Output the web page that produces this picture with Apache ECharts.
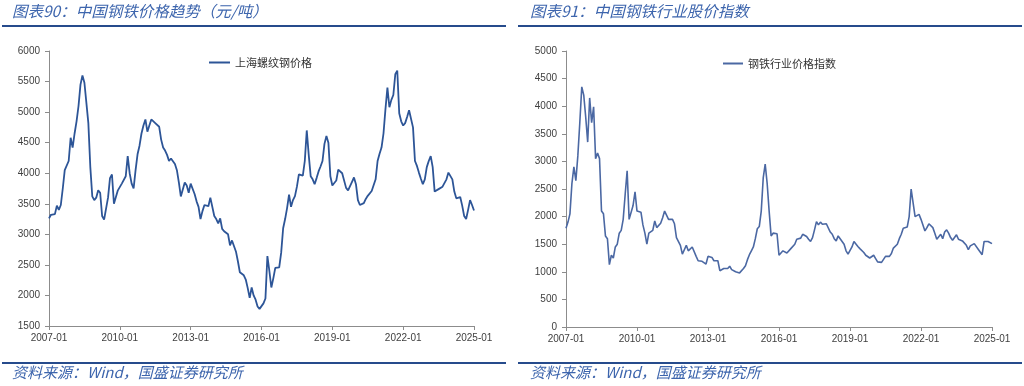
<!DOCTYPE html>
<html>
<head>
<meta charset="utf-8">
<script src="https://cdn.jsdelivr.net/npm/echarts@6/dist/echarts.min.js"></script>
<style>
html,body{margin:0;padding:0;background:#fff;}
#c{width:1024px;height:386px;}
</style>
</head>
<body>
<div id="c"></div>
<script>
// Monthly categories 2007-01 .. 2025-01
var startYear = 2007, endYear = 2025;
var months = [];
for (var y = startYear; y <= endYear; y++) {
  for (var m = 1; m <= 12; m++) {
    if (y === endYear && m > 1) break;
    months.push(y + '-' + (m < 10 ? '0' + m : m));
  }
}
var tickLabels = ['2007-01','2010-01','2013-01','2016-01','2019-01','2022-01','2025-01'];

var titleLeft = '图表90：中国钢铁价格趋势（元/吨）';
var titleRight = '图表91：中国钢铁行业股价指数';
var sourceText = '资料来源：Wind，国盛证券研究所';
var nameRebar = '上海螺纹钢价格';
var nameIndex = '钢铁行业价格指数';

// 上海螺纹钢价格 (元/吨), monthly
var rebarPrice = [
  3260,3320,3340,3330,3470,3400,3480,3750,4050,4070,4200,4580,
  4420,4650,4850,5100,5450,5600,5480,5150,4820,4100,3620,3560,
  3600,3720,3680,3300,3240,3420,3600,3920,3980,3500,3490,3720,
  3750,3830,3800,3950,4280,4000,3830,3750,4050,4310,4450,4650,
  4780,4880,4680,4780,4880,4850,4820,4830,4760,4550,4420,4370,
  4300,4200,4240,4270,4150,4050,3850,3620,3640,3850,3800,3680,
  3830,3810,3660,3540,3450,3250,3380,3480,3450,3460,3600,3580,
  3300,3250,3180,3260,3090,3050,3080,3000,2820,2900,2880,2720,
  2560,2380,2380,2330,2260,2120,1960,2130,2000,1930,1820,1780,
  1780,1870,1950,2645,2400,2130,2280,2450,2420,2460,2700,3100,
  3250,3430,3650,3450,3560,3625,3780,3980,4010,3960,4200,4700,
  4300,3950,3900,3820,3920,4030,4110,4200,4480,4610,4500,3950,
  3800,3810,3880,4060,4080,4000,3980,3760,3720,3740,3860,3930,
  3820,3560,3480,3480,3510,3580,3630,3660,3710,3740,3900,4200,
  4320,4420,4650,5050,5400,5080,5200,5280,5620,5680,4980,4850,
  4780,4820,4920,5030,5000,4750,4200,4120,4010,3910,3820,3900,
  4100,4200,4280,4100,3700,3730,3740,3720,3780,3790,3900,4010,
  3980,3900,3700,3590,3620,3610,3470,3300,3250,3400,3560,3480,
  3390
];

// 钢铁行业价格指数, monthly
var steelIndex = [
  1790,1900,2050,2600,2900,2650,3100,3700,4350,4200,3800,3350,
  4150,3700,3990,3050,3150,3050,2100,2050,1650,1600,1130,1300,
  1250,1450,1500,1700,1750,1950,2400,2830,1950,1930,2200,2450,
  2100,2130,2080,1850,1700,1500,1700,1720,1750,1920,1800,1830,
  1880,1980,2100,2110,1950,1980,1950,1870,1620,1600,1480,1320,
  1400,1480,1380,1400,1450,1420,1280,1200,1190,1190,1200,1140,
  1280,1290,1260,1200,1180,1200,1020,1000,1060,1070,1060,1100,
  1040,1010,1000,990,980,1010,1060,1110,1220,1310,1380,1450,
  1600,1780,1820,2100,2700,2950,2600,2100,1650,1700,1680,1690,
  1300,1270,1380,1400,1340,1325,1420,1440,1500,1590,1600,1610,
  1680,1700,1640,1590,1550,1620,1760,1910,1850,1900,1860,1890,
  1870,1880,1720,1680,1600,1560,1650,1600,1580,1500,1380,1320,
  1350,1450,1550,1530,1460,1420,1400,1350,1300,1270,1250,1270,
  1300,1240,1180,1150,1170,1200,1280,1310,1280,1330,1430,1430,
  1500,1600,1680,1790,1790,1810,2000,2500,2250,2000,2020,2040,
  1950,1960,1740,1800,1870,1880,1800,1700,1590,1600,1680,1600,
  1720,1760,1700,1620,1570,1550,1670,1590,1580,1560,1530,1480,
  1400,1470,1500,1510,1480,1410,1390,1310,1550,1550,1550,1540,
  1510
];

var axisGray = '#8c8c8c';
var labelColor = '#404040';
var titleBlue = '#3d65ad';
var ruleBlue = '#264b8c';
var fontFam = '"Liberation Sans", Arial, sans-serif';
var cjkFam = '"Noto Sans CJK SC", sans-serif';

function xAxisCfg(gridIndex) {
  return {
    type: 'category', gridIndex: gridIndex, data: months, boundaryGap: false,
    axisLine: {lineStyle: {color: axisGray, width: 1}},
    axisTick: {show: true, interval: function (i, v) { return tickLabels.indexOf(v) >= 0; }, length: 4, lineStyle: {color: axisGray}},
    axisLabel: {interval: function (i, v) { return tickLabels.indexOf(v) >= 0; }, color: labelColor, fontSize: 10, fontFamily: fontFam, margin: 7, showMaxLabel: true},
    splitLine: {show: false}
  };
}
function yAxisCfg(gridIndex, min, max, interval) {
  return {
    type: 'value', gridIndex: gridIndex, min: min, max: max, interval: interval,
    axisLine: {show: true, lineStyle: {color: axisGray, width: 1}},
    axisTick: {show: true, length: 4, lineStyle: {color: axisGray}},
    axisLabel: {color: labelColor, fontSize: 10, fontFamily: fontFam, margin: 9,
                formatter: function (v) { return String(v); }},
    splitLine: {show: false}
  };
}

var chart = echarts.init(document.getElementById('c'), null, {renderer: 'canvas'});
chart.setOption({
  animation: false,
  backgroundColor: '#ffffff',
  grid: [
    {left: 49, top: 51, width: 425, height: 275},
    {left: 566, top: 51, width: 426, height: 276}
  ],
  xAxis: [xAxisCfg(0), xAxisCfg(1)],
  yAxis: [yAxisCfg(0, 1500, 6000, 500), yAxisCfg(1, 0, 5000, 500)],
  legend: [
    {left: 204, top: 52, itemWidth: 21, itemHeight: 2, icon: 'rect', data: [nameRebar],
     textStyle: {fontSize: 11, color: '#333', fontFamily: cjkFam}},
    {left: 718, top: 53, itemWidth: 20, itemHeight: 2, icon: 'rect', data: [nameIndex],
     textStyle: {fontSize: 11, color: '#333', fontFamily: cjkFam}}
  ],
  series: [
    {name: nameRebar, type: 'line', xAxisIndex: 0, yAxisIndex: 0, data: rebarPrice,
     symbol: 'none', lineStyle: {color: '#2d5597', width: 1.8}, itemStyle: {color: '#2d5597'}},
    {name: nameIndex, type: 'line', xAxisIndex: 1, yAxisIndex: 1, data: steelIndex,
     symbol: 'none', lineStyle: {color: '#4b68a3', width: 1.6}, itemStyle: {color: '#4b68a3'}}
  ],
  graphic: [
    {type: 'text', left: 12, top: 3, style: {text: titleLeft, fill: titleBlue, font: 'italic 15.5px "Noto Sans CJK SC", sans-serif'}},
    {type: 'text', left: 530, top: 3, style: {text: titleRight, fill: titleBlue, font: 'italic 15.5px "Noto Sans CJK SC", sans-serif'}},
    {type: 'line', shape: {x1: 2, y1: 26, x2: 506, y2: 26}, style: {stroke: ruleBlue, lineWidth: 2}},
    {type: 'line', shape: {x1: 518, y1: 26, x2: 1022, y2: 26}, style: {stroke: ruleBlue, lineWidth: 2}},
    {type: 'line', shape: {x1: 2, y1: 363, x2: 506, y2: 363}, style: {stroke: ruleBlue, lineWidth: 2}},
    {type: 'line', shape: {x1: 518, y1: 363, x2: 1022, y2: 363}, style: {stroke: ruleBlue, lineWidth: 2}},
    {type: 'text', left: 12, top: 365, style: {text: sourceText, fill: titleBlue, font: 'italic 15px "Noto Sans CJK SC", sans-serif'}},
    {type: 'text', left: 530, top: 365, style: {text: sourceText, fill: titleBlue, font: 'italic 15px "Noto Sans CJK SC", sans-serif'}}
  ]
});
</script>
</body>
</html>
